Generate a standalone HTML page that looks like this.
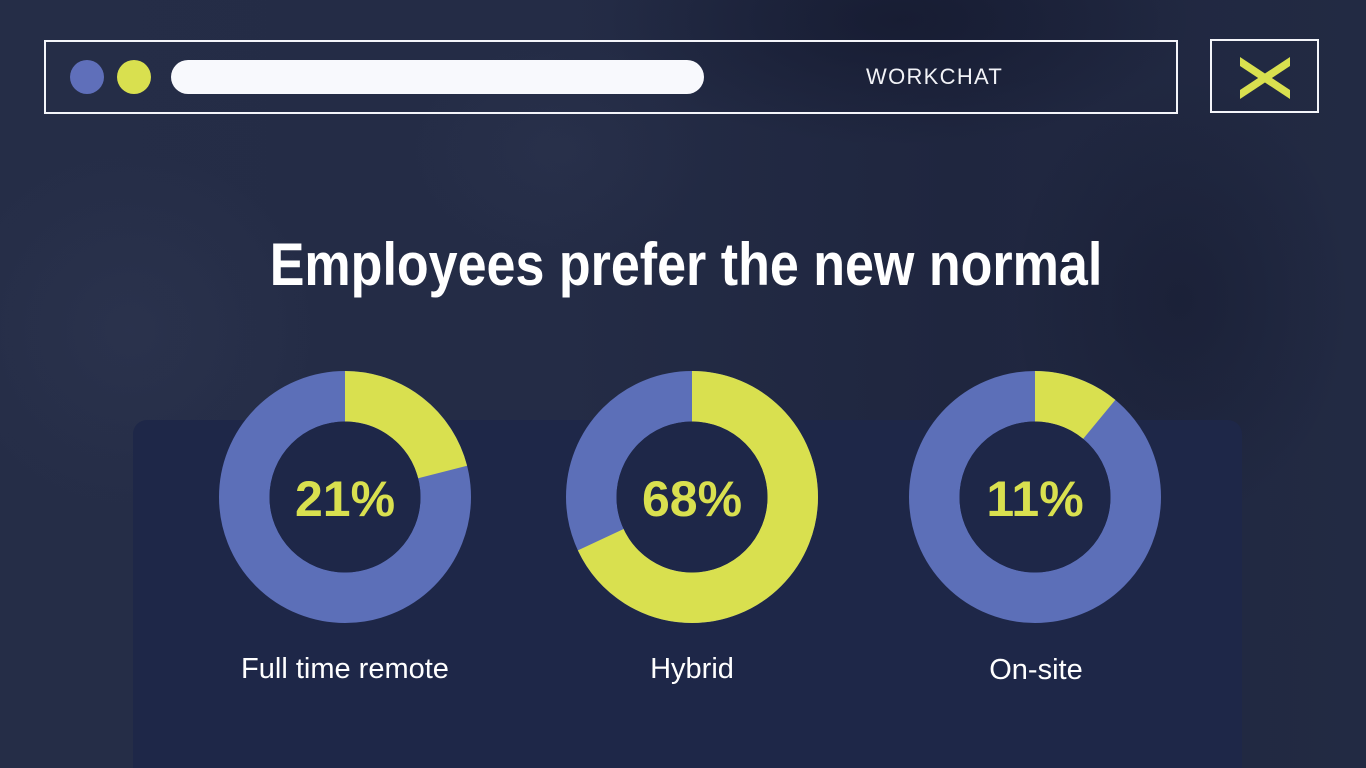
<!DOCTYPE html>
<html>
<head>
<meta charset="utf-8">
<style>
  html,body{margin:0;padding:0;width:1366px;height:768px;overflow:hidden;}
  body{position:relative;background:#222a43;font-family:"Liberation Sans",sans-serif;}
  .bg{position:absolute;left:0;top:0;width:1366px;height:768px;
    background:
      radial-gradient(ellipse 220px 160px at 560px 150px, rgba(55,63,90,0.22), rgba(0,0,0,0) 70%),
      radial-gradient(ellipse 260px 260px at 130px 330px, rgba(55,63,90,0.30), rgba(0,0,0,0) 70%),
      radial-gradient(ellipse 240px 320px at 1180px 300px, rgba(18,22,42,0.40), rgba(0,0,0,0) 70%),
      radial-gradient(ellipse 420px 180px at 900px 20px, rgba(16,20,40,0.55), rgba(0,0,0,0) 70%),
      linear-gradient(90deg,#252d47 0%,#242c46 40%,#1f263f 70%,#222a43 100%);}
  .panel{position:absolute;left:133px;top:420px;width:1109px;height:348px;
    background:#1e2748;border-radius:14px 14px 0 0;}
  .bar{position:absolute;left:44px;top:40px;width:1130px;height:70px;border:2px solid #f4f5fa;}
  .dot{position:absolute;top:60px;width:34px;height:34px;border-radius:50%;}
  .pill{position:absolute;left:171px;top:60px;width:533px;height:34px;border-radius:17px;background:#f8f9fd;}
  .brand{position:absolute;left:866px;top:64px;font-size:22px;letter-spacing:1.3px;color:#f2f3f7;line-height:26px;}
  .close{position:absolute;left:1210px;top:39px;width:105px;height:70px;border:2px solid #f4f5fa;}
  .title{position:absolute;left:686px;top:230px;white-space:nowrap;font-weight:bold;font-size:60px;color:#ffffff;
    transform:translateX(-50%) scaleX(0.867);line-height:70px;}
</style>
</head>
<body>
<div class="bg"></div>
<div class="panel"></div>
<div class="bar"></div>
<div class="dot" style="left:70px;background:#5f6fba;"></div>
<div class="dot" style="left:117px;background:#d9e04f;"></div>
<div class="pill"></div>
<div class="brand">WORKCHAT</div>
<div class="close"></div>
<svg style="position:absolute;left:0;top:0" width="1366" height="768">
  <polygon points="1240,57 1290,90 1290,99 1240,66" fill="#d9e04f"/>
  <polygon points="1290,57 1240,90 1240,99 1290,66" fill="#d9e04f"/>
</svg>
<div class="title">Employees prefer the new normal</div>
<svg style="position:absolute;left:0;top:0" width="1366" height="768" font-family="Liberation Sans, sans-serif">
  <g transform="translate(345,497)">
    <circle r="100.75" fill="none" stroke="#5c6fb8" stroke-width="50.5"/>
    <circle r="100.75" fill="none" stroke="#d9e04f" stroke-width="50.5"
      stroke-dasharray="132.93 633.03" transform="rotate(-90)"/>
    <circle r="75.5" fill="#1e2748"/>
    <text x="0" y="19" text-anchor="middle" font-size="50" font-weight="bold" fill="#d9e04f">21%</text>
  </g>
  <g transform="translate(692,497)">
    <circle r="100.75" fill="none" stroke="#5c6fb8" stroke-width="50.5"/>
    <circle r="100.75" fill="none" stroke="#d9e04f" stroke-width="50.5"
      stroke-dasharray="430.46 633.03" transform="rotate(-90)"/>
    <circle r="75.5" fill="#1e2748"/>
    <text x="0" y="19" text-anchor="middle" font-size="50" font-weight="bold" fill="#d9e04f">68%</text>
  </g>
  <g transform="translate(1035,497)">
    <circle r="100.75" fill="none" stroke="#5c6fb8" stroke-width="50.5"/>
    <circle r="100.75" fill="none" stroke="#d9e04f" stroke-width="50.5"
      stroke-dasharray="69.63 633.03" transform="rotate(-90)"/>
    <circle r="75.5" fill="#1e2748"/>
    <text x="0" y="19" text-anchor="middle" font-size="50" font-weight="bold" fill="#d9e04f">11%</text>
  </g>
  <text x="345" y="678" text-anchor="middle" font-size="29" fill="#ffffff">Full time remote</text>
  <text x="692" y="678" text-anchor="middle" font-size="29" fill="#ffffff">Hybrid</text>
  <text x="1036" y="679" text-anchor="middle" font-size="29" fill="#ffffff">On-site</text>
</svg>
</body>
</html>
